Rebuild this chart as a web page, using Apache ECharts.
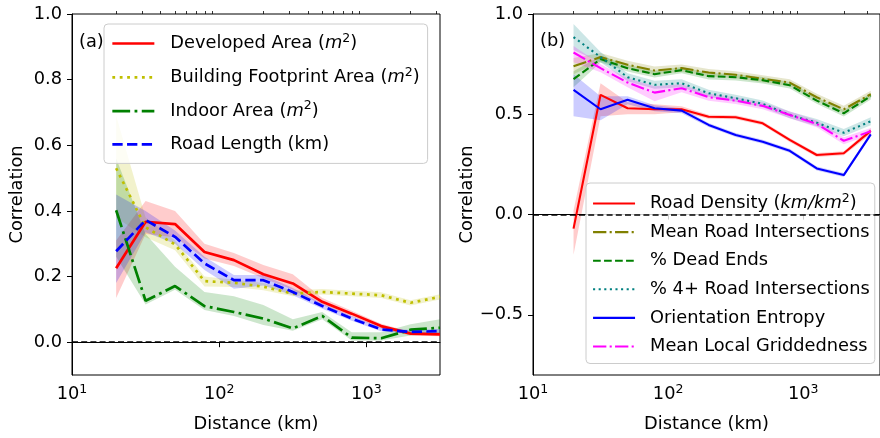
<!DOCTYPE html>
<html><head><meta charset="utf-8">
<script src="https://cdn.jsdelivr.net/npm/echarts@6/dist/echarts.min.js"></script>
<style>html,body{margin:0;padding:0;background:#fff}#c{width:880px;height:438px}</style>
</head><body><div id="c"></div>
<script>
// ---------- data ----------
const distances = [19.95, 31.62, 50.12, 79.43, 125.9, 199.5, 316.2, 501.2, 794.3, 1259, 1995, 3162];

// panel (a)
const developedArea   = [0.225,0.367,0.360,0.275,0.250,0.207,0.179,0.123,0.087,0.049,0.026,0.024];
const developedAreaLo = [0.135,0.330,0.320,0.255,0.232,0.195,0.160,0.113,0.078,0.042,0.020,0.018];
const developedAreaHi = [0.310,0.430,0.400,0.300,0.272,0.235,0.207,0.135,0.096,0.056,0.032,0.030];

const buildingArea    = [0.530,0.350,0.298,0.186,0.181,0.169,0.148,0.153,0.148,0.143,0.120,0.138];
const buildingAreaLo  = [0.380,0.320,0.280,0.170,0.168,0.158,0.140,0.145,0.140,0.135,0.112,0.130];
const buildingAreaHi  = [0.690,0.380,0.310,0.200,0.190,0.180,0.158,0.162,0.157,0.152,0.128,0.146];

const indoorArea      = [0.402,0.126,0.171,0.110,0.092,0.072,0.042,0.080,0.014,0.012,0.038,0.044];
const indoorAreaLo    = [0.260,0.115,0.160,0.098,0.080,0.052,0.035,0.070,0.005,0.005,0.020,0.025];
const indoorAreaHi    = [0.560,0.330,0.230,0.153,0.140,0.113,0.070,0.092,0.030,0.030,0.055,0.070];

const roadLength      = [0.277,0.372,0.321,0.240,0.189,0.189,0.153,0.110,0.072,0.039,0.031,0.034];
const roadLengthLo    = [0.180,0.335,0.300,0.220,0.163,0.173,0.143,0.102,0.065,0.033,0.025,0.028];
const roadLengthHi    = [0.450,0.400,0.340,0.260,0.205,0.205,0.165,0.118,0.080,0.045,0.037,0.040];

// panel (b)
const roadDensity     = [-0.070,0.597,0.530,0.525,0.525,0.488,0.485,0.455,0.372,0.297,0.306,0.417];
const roadDensityLo   = [-0.200,0.490,0.500,0.500,0.510,0.478,0.475,0.445,0.362,0.287,0.296,0.400];
const roadDensityHi   = [0.020,0.655,0.560,0.550,0.540,0.498,0.495,0.465,0.382,0.307,0.316,0.430];

const meanIntersections   = [0.740,0.785,0.747,0.718,0.730,0.708,0.697,0.677,0.658,0.585,0.525,0.600];
const meanIntersectionsLo = [0.700,0.765,0.727,0.698,0.712,0.690,0.680,0.660,0.641,0.568,0.508,0.583];
const meanIntersectionsHi = [0.780,0.805,0.767,0.738,0.748,0.726,0.714,0.694,0.675,0.602,0.542,0.617];

const deadEnds        = [0.675,0.775,0.730,0.700,0.720,0.690,0.685,0.670,0.645,0.568,0.505,0.590];
const deadEndsLo      = [0.635,0.758,0.713,0.683,0.704,0.674,0.669,0.654,0.629,0.552,0.489,0.574];
const deadEndsHi      = [0.715,0.792,0.747,0.717,0.736,0.706,0.701,0.686,0.661,0.584,0.521,0.606];

const fourWay         = [0.885,0.785,0.685,0.647,0.655,0.605,0.580,0.552,0.497,0.458,0.408,0.465];
const fourWayLo       = [0.820,0.760,0.665,0.627,0.635,0.588,0.563,0.535,0.480,0.440,0.390,0.445];
const fourWayHi       = [0.950,0.810,0.705,0.667,0.675,0.622,0.597,0.569,0.514,0.476,0.426,0.485];

const orientEntropy   = [0.622,0.525,0.572,0.530,0.518,0.447,0.397,0.363,0.318,0.230,0.197,0.400];
const orientEntropyLo = [0.490,0.470,0.550,0.515,0.505,0.437,0.387,0.353,0.308,0.220,0.187,0.390];
const orientEntropyHi = [0.700,0.590,0.590,0.545,0.530,0.457,0.407,0.373,0.328,0.240,0.207,0.410];

const griddedness     = [0.808,0.730,0.658,0.608,0.630,0.585,0.568,0.542,0.497,0.452,0.368,0.415];
const griddednessLo   = [0.760,0.710,0.635,0.565,0.610,0.568,0.551,0.525,0.480,0.435,0.350,0.398];
const griddednessHi   = [0.840,0.750,0.680,0.640,0.650,0.602,0.585,0.559,0.514,0.469,0.386,0.432];

const xMajorTicks = [10, 100, 1000];
const xMinorTicks = [20,30,40,50,60,70,80,90,200,300,400,500,600,700,800,900,2000,3000];
const yTicksA = [0, 0.2, 0.4, 0.6, 0.8, 1.0];
const yTicksB = [-0.5, 0, 0.5, 1.0];

// ---------- styling ----------
const FONT = 'DejaVu Sans';
const FS = 17.8;
const LW_A = 2.7, LW_B = 2.1;
const dashA = [10.3, 4.4], dotA = [2.8, 4.6], dashdotA = [17.8, 4.4, 2.8, 4.4];
const dashB = [7.7, 3.3],  dotB = [2.1, 3.5], dashdotB = [13.3, 3.3, 2.1, 3.3];

const pts = arr => distances.map((d, i) => [d, arr[i]]);

function band(key, lo, hi, color, xi, yi) {
  return {type:'custom', name:key, xAxisIndex:xi, yAxisIndex:yi, silent:true, z:1,
    data:pts(lo), encode:{x:0, y:1},
    renderItem:function(params, api){
      if (params.dataIndex !== 0) return null;
      const poly = [];
      for (let i = 0; i < distances.length; i++) poly.push(api.coord([distances[i], hi[i]]));
      for (let i = distances.length - 1; i >= 0; i--) poly.push(api.coord([distances[i], lo[i]]));
      return {type:'polygon', shape:{points:poly}, style:{fill:color, opacity:0.2}};
    }};
}
function line(name, arr, color, width, type, xi, yi) {
  return {type:'line', name:name, xAxisIndex:xi, yAxisIndex:yi, data:pts(arr),
          symbol:'none',
          lineStyle:{color:color, width:width, type:type, cap:'butt'}, itemStyle:{color:color}, z:3};
}
const zeroLine = {type:'line', data:[], symbol:'none',
  markLine:{silent:true, symbol:['none','none'], label:{show:false},
    lineStyle:{color:'#000', width:1.5, type:[6,3.2]}, data:[{yAxis:0}], animation:false}};

const C = {red:'#ff0000', yel:'#bfbf00', grn:'#008000', blu:'#0000ff', olv:'#808000', tea:'#008080', mag:'#ff00ff'};

const N = {
  dev:'Developed Area (m^2)', bld:'Building Footprint Area (m^2)', ind:'Indoor Area (m^2)', rl:'Road Length (km)',
  rd:'Road Density (km/km^2)', mri:'Mean Road Intersections', de:'% Dead Ends', fw:'% 4+ Road Intersections',
  oe:'Orientation Entropy', mlg:'Mean Local Griddedness'
};
function richName(n) {
  return n.replace('(m^2)', '({i|m}{s|2})').replace('(km/km^2)', '({i|km/km}{s|2})');
}

const series = [
  band('bDev', developedAreaLo, developedAreaHi, C.red, 0, 0),
  band('bBld', buildingAreaLo, buildingAreaHi, C.yel, 0, 0),
  band('bInd', indoorAreaLo, indoorAreaHi, C.grn, 0, 0),
  band('bRl', roadLengthLo, roadLengthHi, C.blu, 0, 0),
  Object.assign({}, zeroLine, {xAxisIndex:0, yAxisIndex:0, name:'zeroA'}),
  line(N.dev, developedArea, C.red, LW_A, 'solid', 0, 0),
  line(N.bld, buildingArea, C.yel, LW_A, dotA, 0, 0),
  line(N.ind, indoorArea, C.grn, LW_A, dashdotA, 0, 0),
  line(N.rl, roadLength, C.blu, LW_A, dashA, 0, 0),

  band('bRd', roadDensityLo, roadDensityHi, C.red, 2, 1),
  band('bMri', meanIntersectionsLo, meanIntersectionsHi, C.olv, 2, 1),
  band('bDe', deadEndsLo, deadEndsHi, C.grn, 2, 1),
  band('bFw', fourWayLo, fourWayHi, C.tea, 2, 1),
  band('bOe', orientEntropyLo, orientEntropyHi, C.blu, 2, 1),
  band('bMlg', griddednessLo, griddednessHi, C.mag, 2, 1),
  Object.assign({}, zeroLine, {xAxisIndex:2, yAxisIndex:1, name:'zeroB'}),
  line(N.rd, roadDensity, C.red, LW_B, 'solid', 2, 1),
  line(N.mri, meanIntersections, C.olv, LW_B, dashdotB, 2, 1),
  line(N.de, deadEnds, C.grn, LW_B, dashB, 2, 1),
  line(N.fw, fourWay, C.tea, LW_B, dotB, 2, 1),
  line(N.oe, orientEntropy, C.blu, LW_B, 'solid', 2, 1),
  line(N.mlg, griddedness, C.mag, LW_B, dashdotB, 2, 1)
];

const axisLineS = {show:true, lineStyle:{color:'#000', width:1}};
function xMain(gi, max) {
  return {type:'log', logBase:10, gridIndex:gi, min:10, max:max,
    axisLine:axisLineS, splitLine:{show:false},
    axisTick:{show:true, length:5, inside:false, customValues:xMajorTicks, lineStyle:{color:'#000', width:1}},
    axisLabel:{customValues:xMajorTicks, margin:8, color:'#000',
      formatter: v => '{b|10}{s|' + Math.round(Math.log10(v)) + '}',
      rich:{b:{fontSize:FS, fontFamily:FONT, color:'#000'}, s:{fontSize:12.5, fontFamily:FONT, color:'#000', padding:[0,0,10,0]}}},
    name:'Distance (km)', nameLocation:'middle', nameGap:40,
    nameTextStyle:{fontSize:FS, fontFamily:FONT, color:'#000'}};
}
function xMinor(gi, max) {
  return {type:'log', logBase:10, gridIndex:gi, min:10, max:max, axisLine:{show:false}, splitLine:{show:false},
    axisLabel:{show:false, customValues:xMinorTicks},
    axisTick:{show:true, length:3, customValues:xMinorTicks, lineStyle:{color:'#000', width:0.8}}};
}
function yAx(gi, min, max, ticks, gap) {
  return {type:'value', gridIndex:gi, min:min, max:max, splitLine:{show:false}, axisLine:axisLineS,
    axisTick:{show:true, length:5, customValues:ticks, lineStyle:{color:'#000'}},
    axisLabel:{customValues:ticks, margin:10, fontSize:FS, fontFamily:FONT, color:'#000',
      formatter: v => (v < 0 ? '\u2212' : '') + Math.abs(v).toFixed(1)},
    name:'Correlation', nameLocation:'middle', nameGap:gap,
    nameTextStyle:{fontSize:FS, fontFamily:FONT, color:'#000'}};
}
function legendCfg(names, left, top, lh, gap, pad, textPad) {
  return {show:true, orient:'vertical', align:'left', left:left, top:top, data:names,
    itemWidth:42, itemHeight:14, itemGap:gap, padding:pad,
    backgroundColor:'rgba(255,255,255,0.8)', borderColor:'#cccccc', borderWidth:1, borderRadius:4,
    lineStyle:{width:'inherit'}, itemStyle:{opacity:0}, selectedMode:false,
    formatter: n => richName(n),
    textStyle:{fontSize:FS, fontFamily:FONT, color:'#000', lineHeight:lh, padding:[0,0,0,textPad],
      rich:{i:{fontSize:FS, fontFamily:FONT, fontStyle:'italic', color:'#000', lineHeight:lh},
            s:{fontSize:12.5, fontFamily:FONT, color:'#000', padding:[0,0,10,0]}}}};
}

const option = {
  animation:false,
  backgroundColor:'#fff',
  title:[
    {text:'(a)', left:79, top:33, padding:0, textStyle:{fontSize:FS, fontWeight:'normal', fontFamily:FONT, color:'#000'}},
    {text:'(b)', left:540, top:32, padding:0, textStyle:{fontSize:FS, fontWeight:'normal', fontFamily:FONT, color:'#000'}}
  ],
  grid:[
    {left:72, top:14, width:368, height:361, show:true, borderColor:'#000', borderWidth:1, backgroundColor:'transparent'},
    {left:533, top:14, width:368, height:361, show:true, borderColor:'#000', borderWidth:1, backgroundColor:'transparent'}
  ],
  xAxis:[xMain(0, 3162.3), xMinor(0, 3162.3), xMain(1, 3700), xMinor(1, 3700)],
  yAxis:[yAx(0, -0.1, 1.0, yTicksA, 46), yAx(1, -0.8, 1.0, yTicksB, 57)],
  legend:[
    legendCfg([N.dev, N.bld, N.ind, N.rl], 104, 24, 22, 11.3, [8,8,8,7], 11),
    legendCfg([N.rd, N.mri, N.de, N.fw, N.oe, N.mlg], 586, 183, 20, 8.6, [9,5,7,6], 10)
  ],
  series: series
};
const chart = echarts.init(document.getElementById('c'), null, {renderer:'canvas'});
chart.setOption(option);
</script></body></html>
